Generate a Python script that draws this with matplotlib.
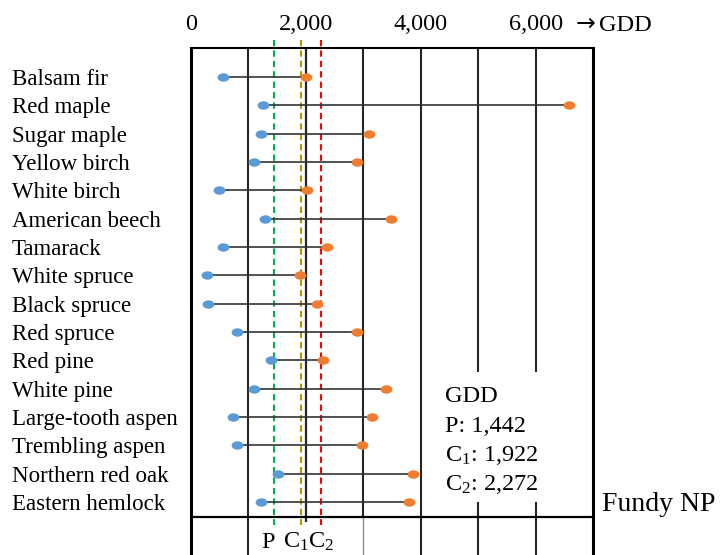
import numpy as np
import matplotlib.pyplot as plt
import matplotlib.transforms as mtrans
from matplotlib.path import Path
from matplotlib.patches import Rectangle

plt.rcParams['font.family'] = ['Liberation Serif', 'DejaVu Serif']
plt.rcParams['mathtext.fontset'] = 'custom'
plt.rcParams['mathtext.rm'] = 'Liberation Serif'
plt.rcParams['mathtext.it'] = 'Liberation Serif:italic'

# data
species = ["Balsam fir", "Red maple", "Sugar maple", "Yellow birch", "White birch",
           "American beech", "Tamarack", "White spruce", "Black spruce", "Red spruce",
           "Red pine", "White pine", "Large-tooth aspen", "Trembling aspen",
           "Northern red oak", "Eastern hemlock"]
gdd_min = [550, 1250, 1215, 1090, 480, 1290, 550, 270, 290, 795,
           1395, 1090, 730, 795, 1520, 1215]
gdd_max = [2005, 6585, 3095, 2890, 2025, 3490, 2375, 1905, 2190, 2890,
           2295, 3390, 3160, 2985, 3870, 3795]

ref_names = ["P", "C$_1$", "C$_2$"]
ref_values = [1442, 1922, 2272]
ref_colors = ["#00B050", "#BF9000", "#FF0000"]

xticks = [0, 2000, 4000, 6000]
xticklabels = ["0", "2,000", "4,000", "6,000"]

W, H = 723, 555


def py(p):
    # pixel row -> data y (rows are 28.33 px apart, first row at 77 px)
    return (p - 77) / 28.33


fig = plt.figure(figsize=(W / 100, H / 100), dpi=100)
ax = fig.add_axes([191 / W, (H - 560) / H, (593 - 191) / W, (560 - 48) / H])
ax.set_xlim(0, 7000)
ax.set_ylim(py(560), py(48))

# grid lines
dark = "#262626"
for gx in [1000, 4000, 5000, 6000]:
    ax.axvline(gx, color=dark, lw=1.5, zorder=2)
ax.vlines(2000, py(48), py(522), color=dark, lw=1.6, zorder=2)
ax.vlines(3000, py(48), py(517), color=dark, lw=1.5, zorder=2)
ax.vlines(3000, py(517), py(560), color="#8c8c8c", lw=1.0, zorder=2)
ax.axhline(py(517), color="black", lw=1.6, zorder=2)

# reference GDD lines
for v, c in zip(ref_values, ref_colors):
    ax.plot([v, v], [py(40), py(525)], color=c, lw=1.5, ls=(0, (3, 2)),
            clip_on=False, zorder=3)

# box behind the GDD legend text
ax.add_patch(Rectangle((4300, py(372)), 2660, py(502) - py(372),
                       facecolor="white", edgecolor="none", zorder=2.5))

ell = Path.unit_circle().transformed(mtrans.Affine2D().scale(1.4, 1.0))
rows = np.arange(len(species))
for i, lo, hi in zip(rows, gdd_min, gdd_max):
    ax.plot([lo, hi], [i, i], color="#333333", lw=1.2, zorder=4)
ax.plot(gdd_min, rows, ls="none", marker=ell, ms=8.5, mew=0, color="#5B9BD5", zorder=5)
ax.plot(gdd_max, rows, ls="none", marker=ell, ms=8.5, mew=0, color="#ED7D31", zorder=5)

# species labels
trans = mtrans.blended_transform_factory(fig.transFigure, ax.transData)
for i, name in zip(rows, species):
    ax.text(12 / W, i, name, transform=trans, fontsize=16.5, ha="left",
            va="center_baseline")

# axis styling
ax.xaxis.tick_top()
ax.set_xticks(xticks)
ax.set_xticklabels(xticklabels, fontsize=17.5)
ax.tick_params(axis="x", length=0, pad=9)
ax.set_yticks([])
ax.spines["bottom"].set_visible(False)
ax.spines["top"].set_linewidth(1.5)
ax.spines["left"].set_linewidth(2.2)
ax.spines["right"].set_linewidth(2.2)
fig.text(576 / W, (H - 31) / H, "\u2192", fontsize=17, va="baseline",
         family=["DejaVu Sans"])
fig.text(599 / W, (H - 31) / H, "GDD", fontsize=17.5, va="baseline")

# legend text
legend_lines = ["GDD"] + [f"{n}: {v:,}" for n, v in zip(ref_names, ref_values)]
for txt, base in zip(legend_lines, [402, 432, 461, 490]):
    ax.text(4425, py(base), txt, fontsize=17.5, va="baseline", ha="left", zorder=6)

# labels under the plot
for n, x in zip(ref_names, [1350, 1830, 2265]):
    ax.text(x, py(548), n, fontsize=17.5, ha="center", va="baseline", zorder=6)

fig.text(602 / W, (H - 511) / H, "Fundy NP", fontsize=20, va="baseline")

fig.savefig("out.png", dpi=100)
